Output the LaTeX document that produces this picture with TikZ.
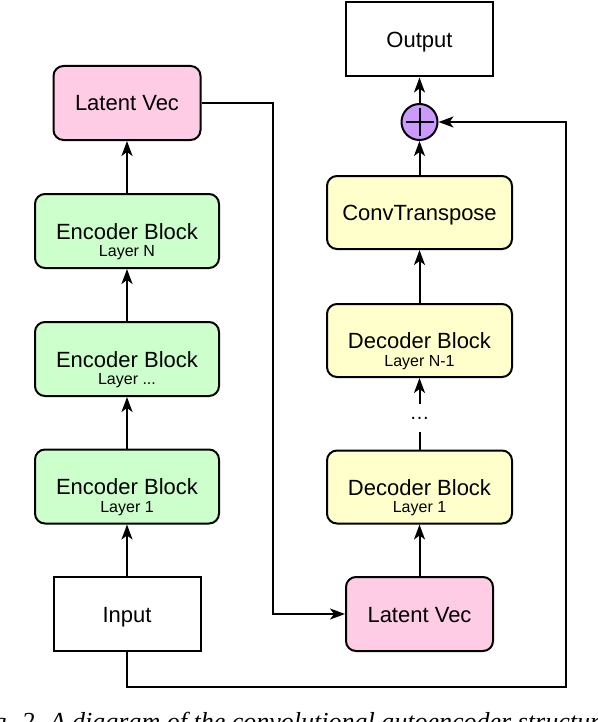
\documentclass[tikz,border=0pt]{standalone}
\usepackage{fontspec}
\setmainfont{Liberation Sans}
\newfontfamily\captionfont{Liberation Serif}
\usetikzlibrary{
    arrows.meta,
    calc
}
\usepackage{xcolor}
\definecolor{encgreen}{RGB}{204,255,204}
\definecolor{latentpink}{RGB}{255,204,230}
\definecolor{decyellow}{RGB}{255,255,204}
\definecolor{sumpurple}{RGB}{204,153,255}
\tikzset{
    % Plain boxes
    iobox/.style={
        rectangle,
        draw=black,
        line width=1pt,
        fill=white,
        minimum width=73.5pt,
        minimum height=37pt,
        text height=8pt,
        text depth=0pt,
        align=center,
        font=\fontsize{11}{13}\selectfont
    },
    % Latent vectors
    latent/.style={
        iobox,
        rounded corners=5pt,
        fill=latentpink
    },
    % Encoder and decoder blocks
    encoder/.style={
        iobox,
        rounded corners=5pt,
        fill=encgreen,
        minimum width=92pt
    },
    decoder/.style={
        iobox,
        rounded corners=5pt,
        fill=decyellow,
        minimum width=92.5pt,
        minimum height=36.5pt
    },
    % Small layer text
    layertag/.style={
        label={[font=\fontsize{8}{9}\selectfont, yshift=-11pt]center:#1}
    },
    % Sum
    sumnode/.style={
        circle,
        draw=black,
        line width=1pt,
        fill=sumpurple,
        minimum size=18pt,
        inner sep=0pt,
        path picture={
            \draw[line width=1pt]
                ([xshift=-7pt]path picture bounding box.center) -- ([xshift=7pt]path picture bounding box.center)
                ([yshift=-7pt]path picture bounding box.center) -- ([yshift=7pt]path picture bounding box.center);
        }
    },
    % Arrows
    arrow/.style={
        -{Stealth[length=7.5pt, width=5.5pt, inset=2pt]},
        line width=1pt,
        draw=black
    },
    plainline/.style={
        line width=1pt,
        draw=black
    }
}

\begin{document}
\begin{tikzpicture}[x=0.5pt, y=-0.5pt]

    \useasboundingbox (0,0) rectangle (598,722);

    % Encoder side
    \node[latent] (latenta) at (127,103) {Latent Vec};
    \node[encoder, layertag={Layer N}] (encn) at (127,231) {Encoder Block};
    \node[encoder, layertag={Layer ...}] (encmid) at (127,359) {Encoder Block};
    \node[encoder, layertag={Layer 1}] (encone) at (127,486.5) {Encoder Block};
    \node[iobox] (input) at (127,614) {Input};

    % Decoder side
    \node[iobox] (output) at (419.5,39.5) {Output};
    \node[sumnode] (sum) at (419.5,122) {};
    \node[decoder] (convt) at (419.5,212.5) {ConvTranspose};
    \node[decoder, layertag={Layer N-1}] (decn) at (419.5,340.5) {Decoder Block};
    \node[inner sep=0pt, minimum height=13.5pt, font=\fontsize{10}{12}\selectfont] (dots) at (419.5,418) {\ldots};
    \node[decoder, layertag={Layer 1}] (decone) at (419.5,487) {Decoder Block};
    \node[latent] (latentb) at (419.5,614) {Latent Vec};

    % Bend points
    \coordinate (bend) at (273,360);
    \coordinate (skip) at (566,687);

    % Arrows
    \draw[arrow] (input) -- (encone);
    \draw[arrow] (encone) -- (encmid);
    \draw[arrow] (encmid) -- (encn);
    \draw[arrow] (encn) -- (latenta);
    \draw[arrow] (latenta.east) -| (bend) |- (latentb.west);
    \draw[arrow] (latentb) -- (decone);
    \draw[plainline] (decone) -- (dots);
    \draw[arrow] (dots) -- (decn);
    \draw[arrow] (decn) -- (convt);
    \draw[arrow] (convt) -- (sum);
    \draw[arrow] (sum) -- (output);
    \draw[arrow] (input.south) |- (skip) |- (sum.east);

    % Caption
    \node[font=\captionfont\itshape\fontsize{13}{15}\selectfont, anchor=base west, inner sep=0pt] (caption) at (-30,730) {Fig. 2. A diagram of the convolutional autoencoder structure.};

\end{tikzpicture}
\end{document}
